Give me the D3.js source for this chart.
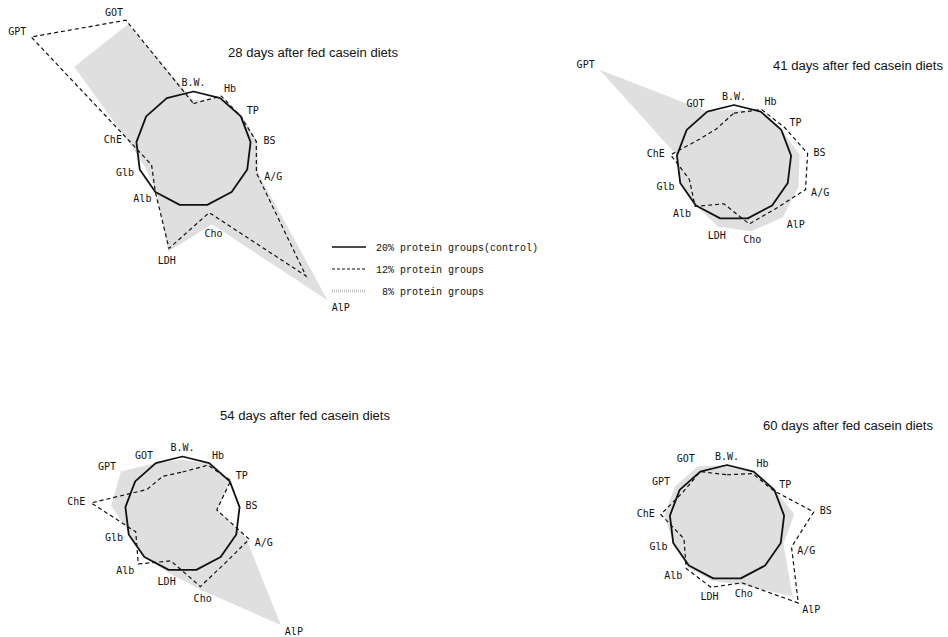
<!DOCTYPE html>
<html>
<head>
<meta charset="utf-8">
<script src="https://cdn.jsdelivr.net/npm/d3@7"></script>
<style>
  body { margin: 0; background: #fff; }
  svg { display: block; }
</style>
</head>
<body>
<div id="chart"></div>
<script>
// axes, clockwise from the top
var axes = ["B.W.", "Hb", "TP", "BS", "A/G", "AlP", "Cho", "LDH", "Alb", "Glb", "ChE", "GPT", "GOT"];

// values in % of the 20% protein (control) group
var control = [100, 100, 100, 100, 100, 100, 100, 100, 100, 100, 100, 100, 100];

var day28_12 = [79, 104, 100, 110, 117, 295, 114, 178, 100, 78, 112, 343, 253];
var day28_8  = [85, 100, 102, 112, 121, 352, 135, 184, 98, 90, 115, 252, 245];

var day41_12 = [86, 104, 107, 129, 133, 108, 110, 74, 102, 83, 111, 72, 66];
var day41_8  = [92, 100, 100, 115, 120, 128, 123, 115, 100, 98, 100, 284, 100];

var day54_12 = [73, 96, 102, 60, 124, 113, 130, 84, 116, 87, 160, 75, 74];
var day54_8  = [95, 98, 100, 62, 118, 258, 136, 105, 100, 98, 125, 130, 100];

var day60_12 = [83, 96, 98, 152, 120, 187, 108, 116, 107, 80, 116, 93, 100];
var day60_8  = [100, 100, 100, 118, 105, 172, 112, 105, 104, 100, 110, 110, 110];

var titles = ["28 days after fed casein diets", "41 days after fed casein diets",
              "54 days after fed casein diets", "60 days after fed casein diets"];

var legendLabels = ["20% protein groups(control)", "12% protein groups", " 8% protein groups"];

function init() {
    var w = 948, h = 637;
    var step = 2 * Math.PI / axes.length;

    // radial scale: 100% = control radius
    var rScale = d3.scaleLinear().domain([0, 100]).range([0, 57.5]);

    var panels = [
        { cx: 193.5, cy: 149, tx: 228, ty: 57, g12: day28_12, g8: day28_8, title: titles[0] },
        { cx: 734, cy: 162.5, tx: 773, ty: 70, g12: day41_12, g8: day41_8, title: titles[1] },
        { cx: 182.5, cy: 514, tx: 220, ty: 420, g12: day54_12, g8: day54_8, title: titles[2] },
        { cx: 727, cy: 522.5, tx: 763, ty: 430, g12: day60_12, g8: day60_8, title: titles[3] }
    ];

    var svg = d3.select("#chart")
        .append("svg")
        .attr("width", w)
        .attr("height", h);

    var radar = d3.lineRadial()
        .angle(function(d, i) { return i * step; })
        .radius(function(d) { return rScale(d); })
        .curve(d3.curveLinearClosed);

    panels.forEach(function(p) {
        var g = svg.append("g")
            .attr("transform", "translate(" + p.cx + "," + p.cy + ")");

        // 8% group, shaded
        g.append("path")
            .attr("d", radar(p.g8))
            .attr("fill", "#dfdfdf")
            .attr("stroke", "none");

        // control
        g.append("path")
            .attr("d", radar(control))
            .attr("fill", "none")
            .attr("stroke", "#111")
            .attr("stroke-width", 1.8)
            .attr("stroke-linejoin", "round");

        // 12% group
        g.append("path")
            .attr("d", radar(p.g12))
            .attr("fill", "none")
            .attr("stroke", "#111")
            .attr("stroke-width", 1.2)
            .attr("stroke-dasharray", "4,3");

        // axis labels just outside the outermost point
        g.selectAll("text.axis")
            .data(axes)
            .enter()
            .append("text")
            .attr("class", "axis")
            .text(function(d) { return d; })
            .attr("font-family", "DejaVu Sans Mono, monospace")
            .attr("font-size", 10)
            .attr("fill", "#111")
            .attr("text-anchor", function(d, i) {
                var s = Math.sin(i * step);
                return s > 0.3 ? "start" : (s < -0.3 ? "end" : "middle");
            })
            .attr("x", function(d, i) {
                var r = rScale(Math.max(100, p.g12[i], p.g8[i])) + 6;
                return Math.sin(i * step) * r;
            })
            .attr("y", function(d, i) {
                var r = rScale(Math.max(100, p.g12[i], p.g8[i])) + 6;
                return -Math.cos(i * step) * r + 3.5 - Math.cos(i * step) * 3;
            });

        svg.append("text")
            .text(p.title)
            .attr("x", p.tx)
            .attr("y", p.ty)
            .attr("font-family", "Liberation Sans, Arial, sans-serif")
            .attr("font-size", 12)
            .attr("fill", "#111")
            .attr("textLength", 170)
            .attr("lengthAdjust", "spacingAndGlyphs");
    });

    // legend
    var legend = svg.append("g").attr("transform", "translate(332,247)");
    var styles = [
        { dash: null, color: "#111", width: 1.6 },
        { dash: "3,2", color: "#111", width: 1.1 },
        { dash: "1,1", color: "#c4c4c4", width: 3 }
    ];
    legend.selectAll("line")
        .data(styles)
        .enter()
        .append("line")
        .attr("x1", 0)
        .attr("x2", 34)
        .attr("y1", function(d, i) { return i * 22; })
        .attr("y2", function(d, i) { return i * 22; })
        .attr("stroke", function(d) { return d.color; })
        .attr("stroke-width", function(d) { return d.width; })
        .attr("stroke-dasharray", function(d) { return d.dash; });

    legend.selectAll("text")
        .data(legendLabels)
        .enter()
        .append("text")
        .text(function(d) { return d; })
        .attr("xml:space", "preserve")
        .style("white-space", "pre")
        .attr("x", 44)
        .attr("y", function(d, i) { return i * 22 + 3.5; })
        .attr("font-family", "Liberation Mono, monospace")
        .attr("font-size", 10)
        .attr("fill", "#111");
}

window.onload = init;
</script>
</body>
</html>
